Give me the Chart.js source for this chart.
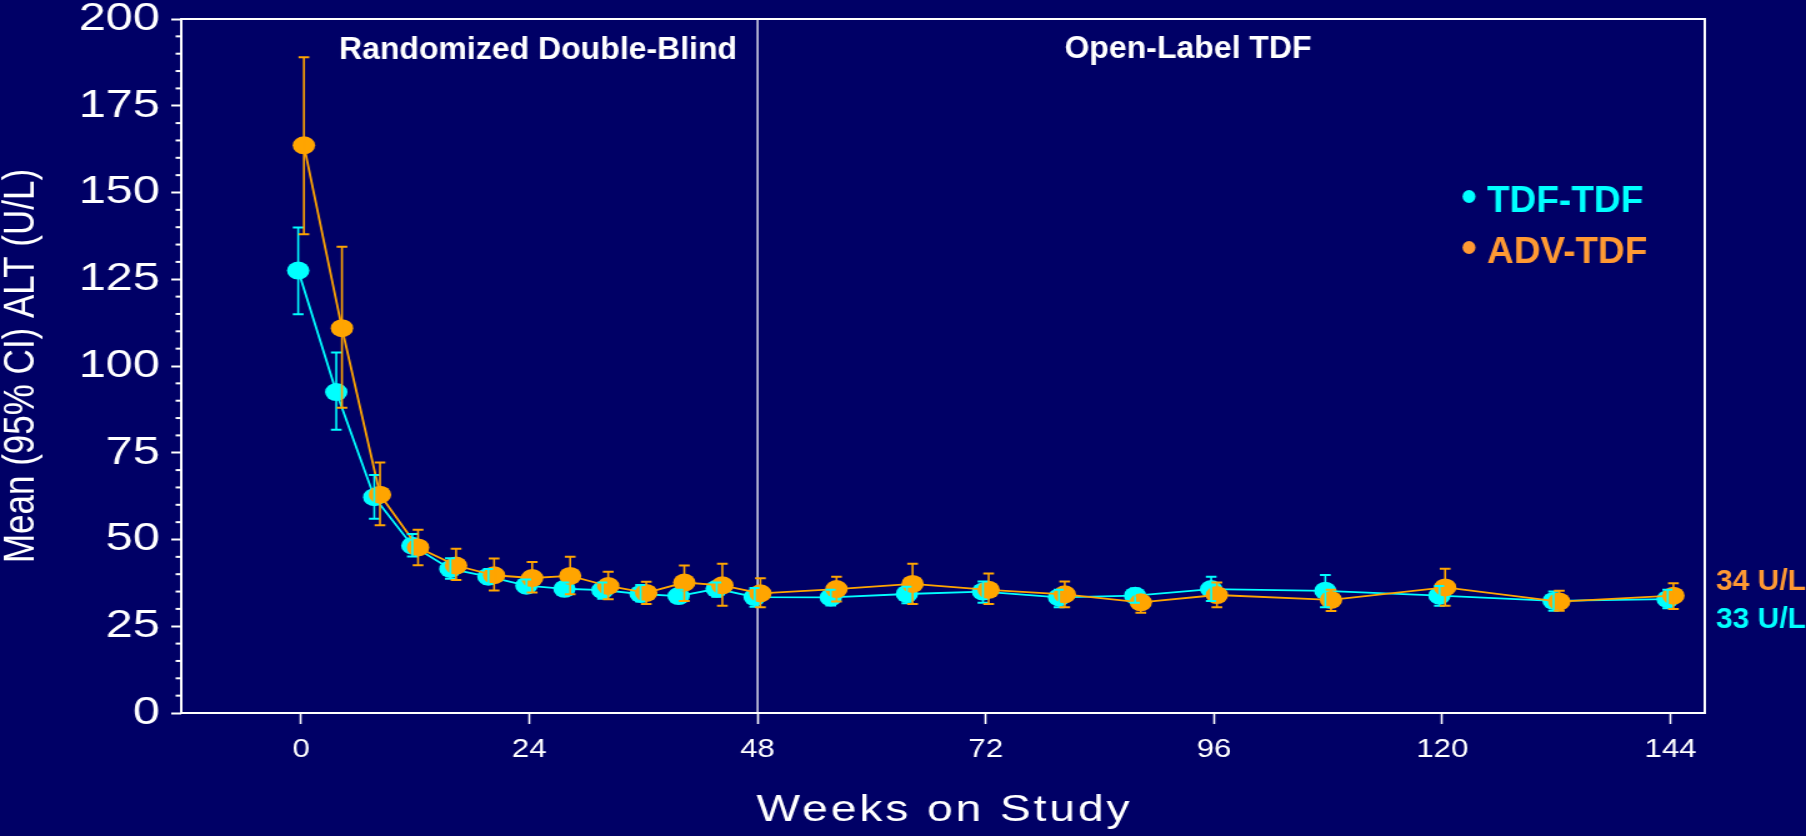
<!DOCTYPE html>
<html>
<head>
<meta charset="utf-8">
<title>Mean ALT over time</title>
<script src="https://cdn.jsdelivr.net/npm/chart.js@4/dist/chart.umd.min.js"></script>
<style>
    html, body { margin: 0; padding: 0; background: #000066; overflow: hidden; }
    #wrap { position: absolute; left: 0; top: 0; width: 1806px; height: 836px; }
    #altChart { position: absolute; left: 0; top: 0; transform-origin: 0 0; }
</style>
</head>
<body>
<div id="wrap"><canvas id="altChart" width="1445" height="836"></canvas></div>
<script>
// The graphic of the original slide is stretched horizontally; we draw narrow and stretch it too
const STRETCH = 1806 / 1445;
const FONT = "'Liberation Sans', Arial, sans-serif";

// Data
const weeks = [0, 4, 8, 12, 16, 20, 24, 28, 32, 36, 40, 44, 48, 56, 64, 72, 80, 88, 96, 108, 120, 132, 144];

const tdfMean = [127.5, 92.5, 62.2, 48.2, 41.5, 39.3, 36.7, 35.8, 35.4, 34.3, 33.7, 35.8, 33.4, 33.3, 34.3, 35.0, 33.3, 33.8, 35.7, 35.2, 33.8, 32.3, 32.8];
const tdfLow = [114.9, 81.6, 56.0, 45.1, 38.7, 37.2, 34.7, 34.2, 32.9, 32.1, 32.1, 33.5, 30.6, 31.0, 31.6, 31.8, 30.5, 31.8, 32.3, 30.5, 30.9, 29.5, 30.2];
const tdfHigh = [139.9, 103.9, 68.6, 51.6, 44.6, 41.5, 38.5, 37.6, 37.6, 36.9, 35.5, 37.6, 36.0, 35.5, 36.4, 37.9, 35.5, 35.9, 39.3, 39.8, 36.6, 35.0, 35.5];

const advMean = [163.6, 110.9, 62.9, 47.7, 42.5, 39.7, 38.9, 39.5, 36.6, 34.6, 37.6, 36.8, 34.5, 35.7, 37.2, 35.5, 34.2, 31.9, 34.0, 32.6, 36.2, 32.1, 33.8];
const advLow = [138.0, 88.0, 54.1, 42.6, 38.3, 35.3, 34.7, 34.2, 32.8, 31.4, 32.3, 30.9, 30.5, 32.1, 31.4, 31.4, 30.5, 28.9, 30.5, 29.4, 30.9, 29.5, 30.0];
const advHigh = [189.0, 134.4, 72.2, 52.8, 47.3, 44.5, 43.5, 45.0, 40.7, 37.8, 42.5, 43.0, 38.8, 39.3, 43.0, 40.2, 37.9, 33.8, 37.6, 35.5, 41.6, 35.2, 37.4];

const xTicks = [0, 24, 48, 72, 96, 120, 144];
const yTicks = [0, 25, 50, 75, 100, 125, 150, 175, 200];
const phaseEnd = 48;
const seriesNames = ['TDF-TDF', 'ADV-TDF'];
const endLabels = ['33 U/L', '34 U/L'];
const xTitle = 'Weeks on Study';

const CYAN = '#00FFFF';
const ORANGE = '#FFA500';
const ORANGE_TEXT = '#FF9933';

document.addEventListener('DOMContentLoaded', function() {
    const canvas = document.getElementById('altChart');
    canvas.style.transform = 'scaleX(' + STRETCH + ')';
    initializeChart(canvas);
});

// small offset so the two groups don't sit exactly on top of each other
function toPoints(values, shift) {
    return weeks.map((w, i) => ({ x: w + shift, y: values[i] }));
}

const series = [
    { mean: tdfMean, low: tdfLow, high: tdfHigh, shift: -0.3, color: CYAN },
    { mean: advMean, low: advLow, high: advHigh, shift: 0.3, color: ORANGE }
];

// frame, 48-week divider and minor y ticks
const framePlugin = {
    id: 'frame',
    beforeDatasetsDraw(chart) {
        const { ctx, chartArea, scales } = chart;
        ctx.save();
        ctx.strokeStyle = '#FFFFFF';
        ctx.lineWidth = 1.3;
        const xl = scales.x.getPixelForValue(phaseEnd);
        ctx.beginPath();
        ctx.moveTo(xl, chartArea.top);
        ctx.lineTo(xl, chartArea.bottom);
        ctx.stroke();

        ctx.lineWidth = 2;
        ctx.strokeRect(chartArea.left, chartArea.top, chartArea.right - chartArea.left, chartArea.bottom - chartArea.top);

        // minor ticks every 5
        for (let v = 5; v < 200; v += 5) {
            if (v % 25 === 0) continue;
            const y = scales.y.getPixelForValue(v);
            ctx.beginPath();
            ctx.moveTo(chartArea.left - 4.5, y);
            ctx.lineTo(chartArea.left - 1, y);
            ctx.stroke();
        }

        // x axis title, drawn here for the wider letter spacing
        ctx.fillStyle = '#FFFFFF';
        ctx.font = '37px ' + FONT;
        ctx.textAlign = 'center';
        ctx.textBaseline = 'alphabetic';
        if ('letterSpacing' in ctx) ctx.letterSpacing = '2.3px';
        ctx.fillText(xTitle, (chartArea.left + chartArea.right) / 2 + 1.2, 821);
        ctx.restore();
    }
};

// 95% CI bars
const errorBarPlugin = {
    id: 'errorBars',
    afterDatasetsDraw(chart) {
        const { ctx, scales } = chart;
        ctx.save();
        series.forEach(s => {
            ctx.strokeStyle = s.color;
            weeks.forEach((w, i) => {
                const x = scales.x.getPixelForValue(w + s.shift);
                const yl = scales.y.getPixelForValue(s.low[i]);
                const yh = scales.y.getPixelForValue(s.high[i]);
                ctx.lineWidth = 1.6;
                ctx.beginPath();
                ctx.moveTo(x, yl);
                ctx.lineTo(x, yh);
                ctx.stroke();
                ctx.lineWidth = 2;
                ctx.beginPath();
                ctx.moveTo(x - 4.3, yl);
                ctx.lineTo(x + 4.3, yl);
                ctx.moveTo(x - 4.3, yh);
                ctx.lineTo(x + 4.3, yh);
                ctx.stroke();
            });
        });
        ctx.restore();
    }
};

// text boxes laid over the graphic on the slide (not stretched)
const overlayPlugin = {
    id: 'overlay',
    afterDraw(chart) {
        const ctx = chart.ctx;
        ctx.save();
        ctx.scale(1 / STRETCH, 1);
        ctx.textBaseline = 'alphabetic';

        ctx.fillStyle = '#FFFFFF';
        ctx.font = 'bold 32px ' + FONT;
        ctx.textAlign = 'center';
        ctx.fillText('Randomized Double-Blind', 538, 59);
        ctx.fillText('Open-Label TDF', 1188, 58);

        // legend
        ctx.textAlign = 'left';
        ctx.font = 'bold 37px ' + FONT;
        const legendColors = [CYAN, ORANGE_TEXT];
        const legendBase = [212, 263];
        seriesNames.forEach((name, i) => {
            ctx.fillStyle = legendColors[i];
            ctx.beginPath();
            ctx.arc(1469, legendBase[i] - 15.5, 6.5, 0, Math.PI * 2);
            ctx.fill();
            ctx.fillText(name, 1487, legendBase[i]);
        });

        // end-of-study values
        ctx.font = 'bold 30px ' + FONT;
        ctx.fillStyle = ORANGE_TEXT;
        ctx.fillText(endLabels[1], 1716, 590);
        ctx.fillStyle = CYAN;
        ctx.fillText(endLabels[0], 1716, 628);
        ctx.restore();
    }
};

function initializeChart(canvas) {
    new Chart(canvas.getContext('2d'), {
        type: 'scatter',
        data: {
            datasets: series.map((s, i) => ({
                label: seriesNames[i],
                data: toPoints(s.mean, s.shift),
                showLine: true,
                borderColor: s.color,
                backgroundColor: s.color,
                borderWidth: 1.8,
                pointRadius: 9,
                pointHoverRadius: 9,
                pointBorderWidth: 0,
                pointBackgroundColor: s.color,
                order: 1 - i
            }))
        },
        options: {
            responsive: false,
            animation: false,
            devicePixelRatio: 1,
            layout: { padding: { left: 0, right: 81, top: 19, bottom: 0 } },
            plugins: {
                legend: { display: false },
                tooltip: { enabled: false }
            },
            scales: {
                x: {
                    type: 'linear',
                    min: -12.6,
                    max: 147.6,
                    afterBuildTicks: scale => { scale.ticks = xTicks.map(v => ({ value: v })); },
                    afterFit: scale => {
                        scale.height = 123;
                        scale.paddingLeft = 0;
                        scale.paddingRight = 0;
                    },
                    border: { display: false },
                    grid: {
                        drawOnChartArea: false,
                        drawTicks: true,
                        tickLength: 11,
                        tickColor: '#FFFFFF',
                        tickWidth: 1.6
                    },
                    ticks: {
                        color: '#FFFFFF',
                        padding: 11,
                        maxRotation: 0,
                        font: { family: FONT, size: 25 }
                    },
                    title: { display: false }
                },
                y: {
                    min: 0,
                    max: 200,
                    afterBuildTicks: scale => { scale.ticks = yTicks.map(v => ({ value: v })); },
                    afterFit: scale => {
                        scale.width = 145;
                        scale.paddingTop = 0;
                        scale.paddingBottom = 0;
                    },
                    border: { display: false },
                    grid: {
                        drawOnChartArea: false,
                        drawTicks: true,
                        tickLength: 8,
                        tickColor: '#FFFFFF',
                        tickWidth: 2
                    },
                    ticks: {
                        color: '#FFFFFF',
                        padding: 9,
                        font: { family: FONT, size: 39 }
                    },
                    title: {
                        display: true,
                        text: 'Mean (95% CI) ALT (U/L)',
                        color: '#FFFFFF',
                        font: { family: FONT, size: 35, lineHeight: 1 },
                        padding: { top: 0, bottom: 0 }
                    }
                }
            }
        },
        plugins: [framePlugin, errorBarPlugin, overlayPlugin]
    });
}
</script>
</body>
</html>
